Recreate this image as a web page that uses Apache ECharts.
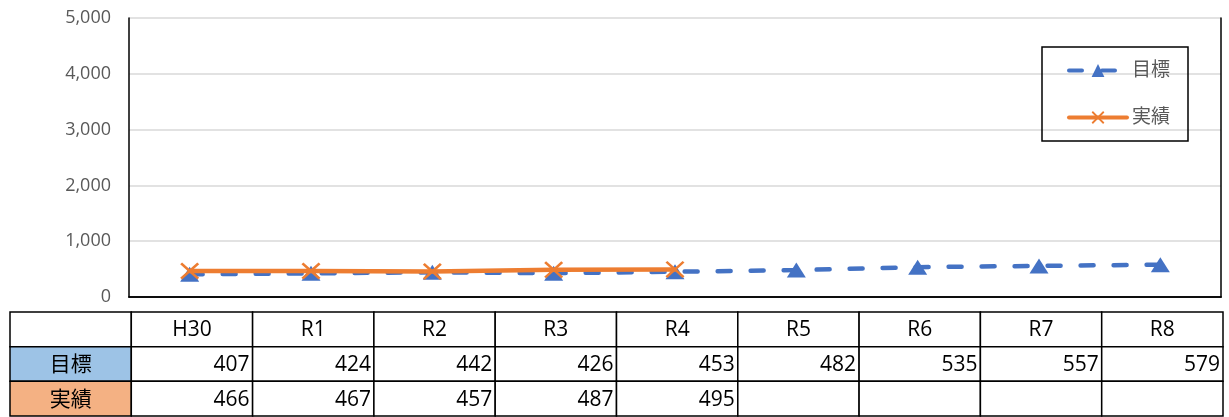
<!DOCTYPE html>
<html>
<head>
<meta charset="utf-8">
<script src="https://cdn.jsdelivr.net/npm/echarts@6/dist/echarts.min.js"></script>
<style>
  html, body { margin: 0; padding: 0; background: #fff; }
  #chart { width: 1229px; height: 417px; }
</style>
</head>
<body>
<div id="chart"></div>
<script>
var categories = ['H30', 'R1', 'R2', 'R3', 'R4', 'R5', 'R6', 'R7', 'R8'];
var targetValues = [407, 424, 442, 426, 453, 482, 535, 557, 579];
var actualValues = [466, 467, 457, 487, 495, null, null, null, null];
var yTicks = [0, 1000, 2000, 3000, 4000, 5000];
var rowNames = ['', '目標', '実績'];
var rowColors = ['#ffffff', '#9dc3e6', '#f4b183'];

var font = '"Open Sans", "Noto Sans CJK JP", sans-serif';

// table cells: [col, row], col 0 is the row-name column
var cells = [];
for (var r = 0; r < 3; r++) {
    for (var c = 0; c <= categories.length; c++) {
        var text = '', fill = '#ffffff', align = 'center';
        if (c === 0) {
            text = rowNames[r];
            fill = rowColors[r];
        } else if (r === 0) {
            text = categories[c - 1];
        } else {
            var v = (r === 1 ? targetValues : actualValues)[c - 1];
            text = v == null ? '' : String(v);
            align = 'right';
        }
        cells.push({ value: [c, r], text: text, fill: fill, align: align });
    }
}

var frameLine = { show: true, lineStyle: { color: '#000', width: 1.5 } };

var chart = echarts.init(document.getElementById('chart'));
var option = {
    animation: false,
    textStyle: { fontFamily: font },
    legend: {
        data: [
            { name: '目標', lineStyle: { width: 4 } },
            { name: '実績', lineStyle: { width: 4 } }
        ],
        orient: 'vertical',
        left: 1042,
        top: 47,
        itemWidth: 58,
        itemHeight: 16,
        itemGap: 28,
        padding: [14, 18, 14, 25],
        borderColor: '#000',
        borderWidth: 1.5,
        textStyle: { color: '#595959', fontSize: 19, fontFamily: font }
    },
    grid: [
        { left: 129, right: 8, top: 18, height: 279 },
        { left: 10, right: 6, top: 312, height: 104 }
    ],
    xAxis: [{
        type: 'category',
        gridIndex: 0,
        data: categories,
        axisLine: frameLine,
        axisTick: { show: false },
        axisLabel: { show: false }
    }, {
        type: 'category',
        gridIndex: 1,
        data: [''].concat(categories),
        show: false
    }, {
        type: 'category',
        gridIndex: 0,
        position: 'top',
        data: categories,
        axisLine: frameLine,
        axisTick: { show: false },
        axisLabel: { show: false }
    }],
    yAxis: [{
        type: 'value',
        gridIndex: 0,
        min: yTicks[0],
        max: yTicks[yTicks.length - 1],
        interval: 1000,
        axisLine: frameLine,
        axisTick: { show: false },
        axisLabel: {
            color: '#595959',
            fontSize: 18,
            margin: 18,
            fontFamily: font,
            formatter: function (v) { return v.toLocaleString('en-US'); }
        },
        splitLine: { lineStyle: { color: '#d9d9d9', width: 1.5 } }
    }, {
        type: 'category',
        gridIndex: 1,
        inverse: true,
        data: rowNames,
        show: false
    }, {
        type: 'value',
        gridIndex: 0,
        position: 'right',
        min: yTicks[0],
        max: yTicks[yTicks.length - 1],
        interval: 1000,
        axisLine: frameLine,
        axisTick: { show: false },
        axisLabel: { show: false },
        splitLine: { show: false }
    }],
    series: [{
        name: '目標',
        type: 'line',
        data: targetValues,
        symbol: 'triangle',
        symbolSize: [19, 15],
        z: 3,
        itemStyle: { color: '#4472c4' },
        lineStyle: { color: '#4472c4', width: 4.5, type: [13, 20], cap: 'round' }
    }, {
        name: '実績',
        type: 'line',
        data: actualValues,
        symbol: 'path://M0,1L1,0L10,9L9,10Z M9,0L10,1L1,10L0,9Z',
        symbolSize: [19, 17],
        z: 4,
        itemStyle: { color: '#ed7d31' },
        lineStyle: { color: '#ed7d31', width: 4.5, cap: 'round' }
    }, {
        name: 'table',
        type: 'custom',
        xAxisIndex: 1,
        yAxisIndex: 1,
        data: cells,
        silent: true,
        renderItem: function (params, api) {
            var cell = cells[params.dataIndex];
            var p = api.coord([api.value(0), api.value(1)]);
            var s = api.size([1, 1]);
            var right = cell.align === 'right';
            return {
                type: 'group',
                children: [{
                    type: 'rect',
                    shape: { x: p[0] - s[0] / 2, y: p[1] - s[1] / 2, width: s[0], height: s[1] },
                    style: { fill: cell.fill, stroke: '#000', lineWidth: 1.5 }
                }, {
                    type: 'text',
                    x: right ? p[0] + s[0] / 2 - 3 : p[0],
                    y: p[1] + 1,
                    style: {
                        text: cell.text,
                        align: right ? 'right' : 'center',
                        verticalAlign: 'middle',
                        fill: '#000',
                        fontSize: 21,
                        fontFamily: font
                    }
                }]
            };
        }
    }]
};
chart.setOption(option);
</script>
</body>
</html>
